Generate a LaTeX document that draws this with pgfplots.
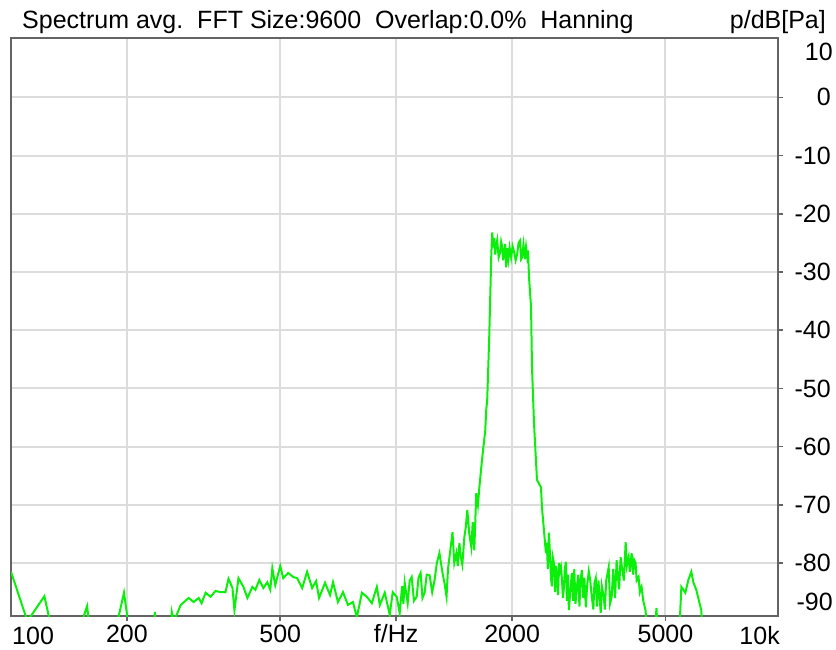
\documentclass[border=0pt]{standalone}
\usepackage{pgfplots}
\pgfplotsset{compat=1.18}
\usepackage{pgfplotstable}
\usepackage{fontspec}
\setmainfont{Liberation Sans}
\definecolor{spec}{RGB}{10,240,10}
\definecolor{framec}{RGB}{100,100,100}
\definecolor{gridc}{RGB}{220,220,220}
\pgfplotstableread{
f dB
100 -81.5
110.3 -90
122.1 -85.7
131.1 -95
144.2 -95
157.6 -87.4
162.4 -95
181.8 -95
196.5 -85.1
206.1 -95
218 -95
221.3 -89.4
224 -95
233 -95
236.3 -88.4
240 -95
258 -95
261.5 -88.4
265 -90
275.8 -87.2
289.2 -86.0
298.0 -86.7
307.0 -86.0
312.5 -86.9
320.0 -85.1
329.7 -85.8
339.6 -84.8
349.9 -85.0
360.5 -85.0
367.0 -82.7
375.8 -84.3
380.3 -88.1
389.5 -82.6
401.3 -84.1
410.9 -86.0
423.3 -84.1
430.9 -84.6
441.2 -82.9
451.9 -84.3
462.8 -83.3
471.1 -84.6
476.8 -80.9
485.3 -83.8
500.0 -80.5
509.0 -82.6
524.4 -81.7
540.3 -82.4
553.3 -82.6
570.0 -84.3
587.2 -81.5
605.0 -84.3
619.5 -83.1
630.6 -86.0
653.5 -83.4
673.3 -85.5
685.4 -83.3
706.1 -86.7
727.5 -85.0
749.5 -87.2
772.1 -86.7
790.7 -89.3
814.6 -85.1
839.2 -85.8
864.6 -86.9
890.7 -84.1
906.8 -87.2
934.0 -85.1
962.1 -88.9
979.4 -85.0
1003 -85.8
1021 -88.6
1036 -84.0
1044 -87.0
1052 -83.4
1071 -86.9
1084 -83.0
1097 -82.4
1112 -86.5
1130 -85.8
1143 -82.5
1157 -81.7
1170 -86.0
1185 -85.1
1200 -82.0
1221 -82.1
1240 -85.0
1258 -82.9
1275 -80.0
1295 -78.3
1319 -81.7
1335 -83.5
1351 -85.8
1363 -81.0
1375 -79.0
1400 -74.7
1415 -80.0
1433 -78.3
1445 -80.5
1459 -76.6
1472 -79.0
1485 -80.3
1503 -75.5
1515 -74.0
1530 -70.9
1548 -75.0
1567 -77.3
1580 -73.0
1595 -77.8
1614 -68.0
1630 -70.0
1644 -67.0
1673 -61.8
1703 -57.2
1713 -53.7
1723 -52.0
1744 -41.2
1766 -26.8
1776 -23.2
1787 -25.8
1797 -24.2
1808 -27.0
1818 -25.4
1829 -24.5
1845 -27.5
1862 -26.6
1873 -24.8
1884 -25.6
1896 -28.0
1907 -26.6
1919 -25.2
1930 -29.2
1941 -25.9
1955 -27.8
1970 -25.8
1988 -27.5
2005 -25.6
2024 -26.6
2042 -28.0
2060 -27.0
2078 -25.0
2097 -24.6
2110 -27.8
2122 -27.5
2140 -25.3
2158 -27.8
2173 -25.7
2187 -27.3
2199 -26.3
2212 -30.9
2239 -36.0
2252 -46.4
2279 -56.0
2320 -65.7
2376 -67.0
2390 -70.4
2418 -74.3
2447 -78.3
2460 -76.5
2475 -81.0
2492 -74.8
2505 -78.0
2522 -82.4
2535 -84.0
2550 -79.0
2568 -80.0
2585 -85.0
2600 -80.5
2615 -82.4
2630 -85.5
2646 -80.0
2660 -81.5
2678 -80.7
2694 -82.9
2710 -86.0
2726 -84.1
2740 -81.0
2759 -79.8
2775 -86.5
2790 -82.0
2808 -88.1
2830 -85.0
2858 -81.7
2880 -86.5
2900 -81.0
2920 -87.0
2945 -84.1
2970 -82.0
2990 -87.5
3010 -83.0
3034 -81.2
3060 -86.0
3080 -82.5
3107 -87.6
3130 -84.0
3162 -81.4
3190 -83.0
3219 -85.8
3250 -88.0
3270 -83.5
3297 -82.6
3320 -87.5
3350 -83.0
3396 -88.6
3420 -84.0
3458 -85.8
3480 -88.0
3510 -83.0
3562 -80.7
3590 -87.0
3626 -85.8
3660 -81.0
3700 -86.0
3735 -79.5
3760 -82.0
3790 -84.5
3826 -79.0
3860 -81.0
3900 -83.0
3942 -76.4
3970 -80.5
4013 -79.0
4040 -81.5
4085 -78.3
4120 -82.0
4150 -79.5
4182 -80.0
4210 -83.0
4258 -82.4
4290 -85.0
4335 -84.1
4380 -86.5
4439 -88.1
4519 -95
4656 -95
4739 -87.7
4796 -95
5402 -95
5500 -84.1
5632 -85.1
5734 -82.9
5837 -81.5
5907 -83.3
6012 -84.6
6195 -88.1
6269 -95
9800 -95
}\spectrum
\begin{document}
\fontsize{25}{30}\selectfont
\begin{tikzpicture}
\useasboundingbox (0,0) rectangle (836pt,649pt);
\begin{axis}[
  name=ax,
  at={(11pt,33pt)}, anchor=south west,
  scale only axis, width=767pt, height=578pt,
  xmode=log, xmin=100, xmax=9800, ymin=-89.1, ymax=10.2,
  xtick={200,500,1000,2000,5000},
  xticklabels={200,500,f/Hz,2000,5000},
  ytick={-80,-70,-60,-50,-40,-30,-20,-10,0},
  yticklabels={-80,-70,-60,-50,-40,-30,-20,-10,0},
  xminorticks=false, yminorticks=false,
  xtick pos=bottom, ytick pos=right, yticklabel pos=right,
  tick align=outside, major tick length=5pt,
  tick style={framec, line width=1.5pt},
  grid=major, major grid style={gridc, line width=2pt},
  axis line style={framec, line width=2pt},
  tick label style={font=\fontsize{25}{30}\selectfont, inner sep=0pt},
  xticklabel style={anchor=base, yshift=-21pt},
  yticklabel style={anchor=east, xshift=48pt},
]
\addplot[spec, line width=2pt] table[x=f, y=dB] {\spectrum};
\end{axis}
\node[anchor=base west, inner sep=0pt] at ([xshift=11pt,yshift=9pt]ax.north west) {Spectrum avg.\ \ FFT Size:9600\ \ Overlap:0.0\%\ \ Hanning};
\node[anchor=base east, inner sep=0pt] at ([xshift=48pt,yshift=9pt]ax.north east) {p/dB[Pa]};
\node[anchor=east, inner sep=0pt] at ([xshift=55pt,yshift=-14pt]ax.north east) {10};
\node[anchor=east, inner sep=0pt] at ([xshift=55pt,yshift=14pt]ax.south east) {-90};
\node[anchor=base west, inner sep=0pt] at ([xshift=1pt,yshift=-28pt]ax.south west) {100};
\node[anchor=base east, inner sep=0pt] at ([xshift=2pt,yshift=-28pt]ax.south east) {10k};
\end{tikzpicture}
\end{document}
